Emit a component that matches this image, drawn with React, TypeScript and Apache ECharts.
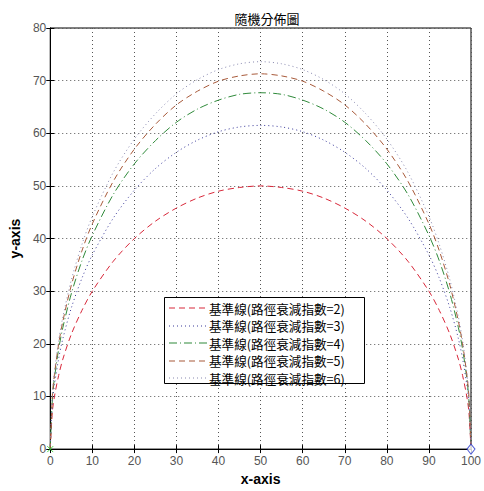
import React, { useEffect, useRef } from "react";
import * as echarts from "echarts";

const titleText = "隨機分佈圖";
const xTicks = [0, 10, 20, 30, 40, 50, 60, 70, 80, 90, 100];
const xs = [0, 0.5, 1, 2, 3, 5, 7.5, 10, 15, 20, 25, 30, 35, 40, 45, 50, 55, 60, 65, 70, 75, 80, 85, 90, 92.5, 95, 97, 98, 99, 99.5, 100];
const n2 = [0, 7.1, 10.0, 14.0, 17.1, 21.8, 26.3, 30.0, 35.7, 40.0, 43.3, 45.8, 47.7, 49.0, 49.7, 50.0, 49.7, 49.0, 47.7, 45.8, 43.3, 40.0, 35.7, 30.0, 26.3, 21.8, 17.1, 14.0, 10.0, 7.1, 0];
const n3 = [0, 8.7, 12.2, 17.2, 21.0, 26.8, 32.4, 36.9, 43.9, 49.2, 53.3, 56.4, 58.7, 60.3, 61.2, 61.5, 61.2, 60.3, 58.7, 56.4, 53.3, 49.2, 43.9, 36.9, 32.4, 26.8, 21.0, 17.2, 12.2, 8.7, 0];
const n4 = [0, 9.5, 13.5, 19.0, 23.1, 29.5, 35.7, 40.6, 48.4, 54.2, 58.6, 62.1, 64.6, 66.3, 67.4, 67.7, 67.4, 66.3, 64.6, 62.1, 58.6, 54.2, 48.4, 40.6, 35.7, 29.5, 23.1, 19.0, 13.5, 9.5, 0];
const n5 = [0, 10.1, 14.2, 20.0, 24.3, 31.1, 37.6, 42.8, 50.9, 57.0, 61.7, 65.4, 68.0, 69.9, 70.9, 71.3, 70.9, 69.9, 68.0, 65.4, 61.7, 57.0, 50.9, 42.8, 37.6, 31.1, 24.3, 20.0, 14.2, 10.1, 0];
const n6 = [0, 10.4, 14.6, 20.6, 25.1, 32.1, 38.8, 44.2, 52.6, 58.9, 63.7, 67.5, 70.2, 72.1, 73.2, 73.6, 73.2, 72.1, 70.2, 67.5, 63.7, 58.9, 52.6, 44.2, 38.8, 32.1, 25.1, 20.6, 14.6, 10.4, 0];
const seriesNames = [
  "基準線(路徑衰減指數=2)",
  "基準線(路徑衰減指數=3)",
  "基準線(路徑衰減指數=4)",
  "基準線(路徑衰減指數=5)",
  "基準線(路徑衰減指數=6)",
];
const startPoint = [[0, 0]];
const endPoint = [[100, 0]];

const seriesValues = [n2, n3, n4, n5, n6];
const seriesColors = ["#d8283a", "#3a3a9a", "#2f8a3a", "#a85a3a", "#8a8ab0"];
const seriesDash: any[] = [[6, 4], [1, 3], [8, 3, 1, 3], [6, 4], [1, 3]];

export default function App() {
  const ref = useRef<HTMLDivElement>(null);
  useEffect(() => {
    document.body.style.margin = "0";
    const chart = echarts.init(ref.current!, null, { renderer: "svg" });
    const tickFont = { fontFamily: "Liberation Sans, Arial, sans-serif", fontSize: 12, color: "#555" };
    const lineSeries = seriesValues.map((vals, i) => ({
      name: seriesNames[i],
      type: "line",
      xAxisIndex: 0,
      yAxisIndex: 0,
      data: xs.map((x, j) => [x, vals[j]]),
      showSymbol: false,
      symbol: "none",
      smooth: 0.3,
      lineStyle: { color: seriesColors[i], width: 1, type: seriesDash[i] },
      itemStyle: { color: seriesColors[i] },
      z: 3,
    }));

    // legend box drawn as graphic
    const lgLeft = 164, lgTop = 297, lgW = 200, lgH = 86, rowTop = 308, rowStep = 17.5;
    const legendEls: any[] = [
      {
        type: "rect",
        shape: { x: lgLeft + 0.5, y: lgTop + 0.5, width: lgW, height: lgH },
        style: { fill: "#fff", stroke: "#000", lineWidth: 1 },
        z: 10,
      },
    ];
    seriesNames.forEach((n, i) => {
      const yc = rowTop + i * rowStep;
      const y = Math.round(yc);
      legendEls.push({
        type: "line",
        shape: { x1: 169, y1: y, x2: 208, y2: y },
        style: { stroke: seriesColors[i], lineWidth: 1.2, lineDash: seriesDash[i], opacity: 1 },
        z: 11,
      });
      legendEls.push({
        type: "text",
        x: 209,
        y: yc,
        style: {
          text: n,
          fill: "#000",
          fontSize: 12.6,
          fontFamily: "Noto Sans CJK TC",
          lineHeight: 15,
          verticalAlign: "middle",
          align: "left",
        },
        z: 11,
      });
    });

    chart.setOption({
      animation: false,
      backgroundColor: "#fff",
      title: {
        text: titleText,
        left: 262,
        textAlign: "center",
        top: 7,
        textStyle: { fontSize: 13, fontWeight: "normal", color: "#000", fontFamily: "Noto Sans CJK TC" },
      },
      grid: { left: 47, top: 28, width: 429, height: 427, show: true, borderColor: "#000", borderWidth: 1, backgroundColor: "#fff" },
      graphic: legendEls,
      xAxis: [
        {
          type: "value",
          min: 0,
          max: 100,
          interval: 10,
          name: "x-axis",
          nameLocation: "middle",
          nameGap: 21,
          nameTextStyle: { fontSize: 14, fontWeight: "bold", color: "#000", fontFamily: "Liberation Sans, Arial, sans-serif" },
          axisLine: { show: true, lineStyle: { color: "#000", width: 1 } },
          axisTick: { show: true, inside: true, length: 4, lineStyle: { color: "#000" } },
          axisLabel: { ...tickFont, margin: 6, formatter: (v: number) => (xTicks.includes(v) ? String(v) : "") },
          splitLine: { show: true, lineStyle: { color: "#555", type: [1, 3], width: 1 } },
        },
        {
          type: "value",
          position: "top",
          min: 0,
          max: 100,
          interval: 10,
          axisLine: { show: true, lineStyle: { color: "#000" } },
          axisTick: { show: true, inside: true, length: 4, lineStyle: { color: "#000" } },
          axisLabel: { show: false },
          splitLine: { show: false },
        },
      ],
      yAxis: [
        {
          type: "value",
          min: 0,
          max: 80,
          interval: 10,
          name: "y-axis",
          nameLocation: "middle",
          nameRotate: 90,
          nameGap: 22,
          nameTextStyle: { fontSize: 14, fontWeight: "bold", color: "#000", fontFamily: "Liberation Sans, Arial, sans-serif" },
          axisLine: { show: true, lineStyle: { color: "#000", width: 1 } },
          axisTick: { show: true, inside: true, length: 4, lineStyle: { color: "#000" } },
          axisLabel: { ...tickFont, margin: 4 },
          splitLine: { show: true, lineStyle: { color: "#555", type: [1, 3], width: 1 } },
        },
        {
          type: "value",
          position: "right",
          min: 0,
          max: 80,
          interval: 10,
          axisLine: { show: true, lineStyle: { color: "#000" } },
          axisTick: { show: true, inside: true, length: 4, lineStyle: { color: "#000" } },
          axisLabel: { show: false },
          splitLine: { show: false },
        },
      ],
      series: [
        ...lineSeries,
        {
          type: "scatter",
          name: "start",
          data: startPoint,
          symbol: "path://M0,0L10,10M10,0L0,10",
          symbolSize: 6,
          itemStyle: { color: "none", borderColor: "#22cc22", borderWidth: 1 },
          z: 5,
        },
        {
          type: "scatter",
          name: "end",
          data: endPoint,
          symbol: "diamond",
          symbolSize: [8, 10],
          itemStyle: { color: "#fff", borderColor: "#2233cc", borderWidth: 1 },
          z: 5,
        },
      ],
    });
    return () => chart.dispose();
  }, []);
  return <div ref={ref} style={{ width: 484, height: 491 }} />;
}
